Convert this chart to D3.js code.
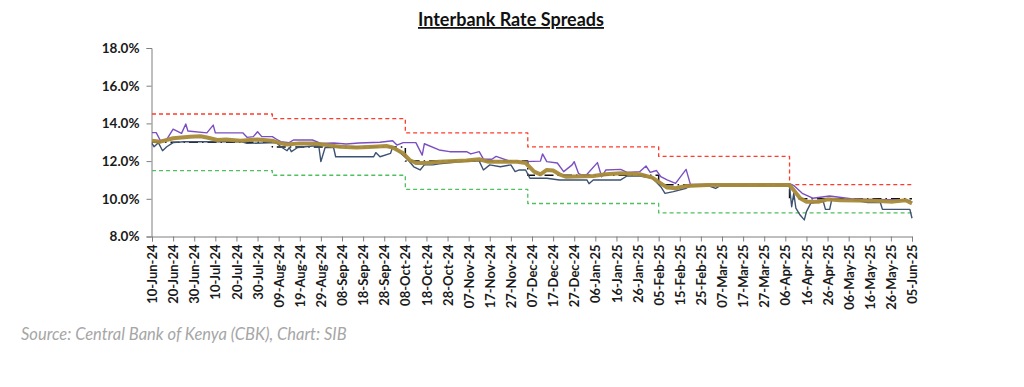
<!DOCTYPE html>
<html>
<head>
<meta charset="utf-8">
<script src="https://cdn.jsdelivr.net/npm/d3@7"></script>
<style>
  html, body { margin: 0; padding: 0; background: #fff; }
  svg { display: block; }
</style>
</head>
<body>
<svg id="chart" width="1024" height="387"></svg>
<script>
// ---------- DATA ----------
const title = "Interbank Rate Spreads";
const source = "Source: Central Bank of Kenya (CBK), Chart: SIB";

const yTicks = [8, 10, 12, 14, 16, 18];
const xTickDates = ["2024-06-10","2024-06-20","2024-06-30","2024-07-10","2024-07-20","2024-07-30",
  "2024-08-09","2024-08-19","2024-08-29","2024-09-08","2024-09-18","2024-09-28","2024-10-08",
  "2024-10-18","2024-10-28","2024-11-07","2024-11-17","2024-11-27","2024-12-07","2024-12-17",
  "2024-12-27","2025-01-06","2025-01-16","2025-01-26","2025-02-05","2025-02-15","2025-02-25",
  "2025-03-07","2025-03-17","2025-03-27","2025-04-06","2025-04-16","2025-04-26","2025-05-06",
  "2025-05-16","2025-05-26","2025-06-05"];

// policy corridor (step lines)
const policyDates = ["2024-06-10","2024-08-06","2024-10-08","2024-12-05","2025-02-05","2025-04-08","2025-06-05"];
const cbrRate   = [13.00, 12.75, 12.00, 11.25, 10.75, 10.00, 10.00];
const upperBand = [14.50, 14.25, 13.50, 12.75, 12.25, 10.75, 10.75];
const lowerBand = [11.50, 11.25, 10.50,  9.75,  9.25,  9.25,  9.25];

// interbank high (purple)
const highDates = ["2024-06-10","2024-06-12","2024-06-14","2024-06-17","2024-06-20","2024-06-24","2024-06-26",
  "2024-06-27","2024-07-06","2024-07-09","2024-07-10","2024-07-23","2024-07-25","2024-07-28","2024-07-30",
  "2024-08-01","2024-08-06","2024-08-08","2024-08-10","2024-08-14","2024-08-16","2024-08-25","2024-08-29",
  "2024-09-04","2024-09-10","2024-09-16","2024-09-26","2024-10-02","2024-10-04","2024-10-07","2024-10-13",
  "2024-10-16","2024-10-17","2024-10-24","2024-10-29","2024-11-06","2024-11-08","2024-11-12","2024-11-14",
  "2024-11-18","2024-11-20","2024-11-27","2024-12-04","2024-12-11","2024-12-12","2024-12-14","2024-12-19",
  "2024-12-22","2024-12-26","2024-12-27","2024-12-29","2025-01-01","2025-01-07","2025-01-09","2025-01-11",
  "2025-01-18","2025-01-21","2025-01-27","2025-01-30","2025-02-01","2025-02-04","2025-02-06","2025-02-09",
  "2025-02-13","2025-02-18","2025-02-20","2025-02-25","2025-03-17","2025-04-08","2025-04-10","2025-04-14",
  "2025-04-19","2025-04-27","2025-05-07","2025-05-15","2025-05-27","2025-06-04","2025-06-05"];
const highRate = [13.51,13.51,13.08,13.15,13.69,13.47,13.97,
  13.60,13.50,13.91,13.50,13.50,13.26,13.30,13.56,
  13.30,13.30,13.16,13.03,12.98,13.12,13.12,12.94,
  12.96,12.91,12.96,13.00,13.08,12.85,12.98,12.98,
  12.32,12.92,12.59,12.50,12.50,12.38,12.50,12.10,
  12.10,12.25,11.97,11.97,12.00,12.38,11.97,11.90,
  11.44,11.80,11.97,11.35,11.17,11.92,11.17,11.53,
  11.56,11.40,11.44,11.74,11.40,11.50,11.17,11.00,
  10.82,11.56,10.78,10.76,10.78,10.80,10.70,10.29,
  10.03,10.15,10.00,9.97,9.95,9.90,9.80];

// interbank low (slate blue)
const lowDates = ["2024-06-10","2024-06-11","2024-06-13","2024-06-15","2024-06-17","2024-06-20","2024-06-25",
  "2024-07-22","2024-07-25","2024-08-08","2024-08-10","2024-08-13","2024-08-14","2024-08-15","2024-08-18",
  "2024-08-25","2024-08-28","2024-08-29","2024-08-31","2024-09-04","2024-09-05","2024-09-23","2024-09-24",
  "2024-09-26","2024-10-01","2024-10-02","2024-10-05","2024-10-09","2024-10-12","2024-10-15","2024-10-17",
  "2024-10-21","2024-10-24","2024-11-06","2024-11-12","2024-11-14","2024-11-17","2024-11-22","2024-11-27",
  "2024-11-29","2024-12-01","2024-12-04","2024-12-06","2024-12-14","2024-12-20","2025-01-02","2025-01-03",
  "2025-01-05","2025-01-18","2025-01-21","2025-01-27","2025-02-02","2025-02-06","2025-02-08","2025-02-12",
  "2025-02-18","2025-02-20","2025-03-01","2025-03-04","2025-03-06","2025-04-07","2025-04-08","2025-04-09",
  "2025-04-10","2025-04-11","2025-04-13","2025-04-15","2025-04-16","2025-04-18","2025-04-22","2025-04-24",
  "2025-04-25","2025-04-27","2025-04-28","2025-05-07","2025-05-15","2025-05-21","2025-05-22","2025-06-04",
  "2025-06-05"];
const lowRate = [12.94,12.76,12.98,12.55,12.76,12.98,13.03,
  13.03,12.94,12.98,12.76,12.55,12.72,12.50,12.72,
  12.80,12.80,11.97,12.72,12.72,12.23,12.23,12.45,
  12.23,12.41,12.76,12.50,12.10,11.70,11.53,11.80,
  11.80,11.85,12.00,12.00,11.53,11.80,11.70,11.80,
  11.44,11.53,11.53,11.09,11.09,11.00,11.00,10.80,
  11.00,11.00,11.21,11.21,11.10,10.64,10.29,10.38,
  10.56,10.68,10.68,10.55,10.68,10.68,10.64,9.58,
  10.30,9.50,9.14,8.88,9.32,9.76,9.85,9.85,
  9.44,9.44,9.97,9.97,9.80,9.80,9.44,9.44,
  8.97];

// interbank average (gold)
const avgDates = ["2024-06-10","2024-06-14","2024-06-20","2024-06-28","2024-07-03","2024-07-06","2024-07-11",
  "2024-07-15","2024-07-22","2024-07-30","2024-08-06","2024-08-10","2024-08-13","2024-08-19","2024-08-25",
  "2024-08-30","2024-09-07","2024-09-15","2024-09-23","2024-09-29","2024-10-02","2024-10-07","2024-10-10",
  "2024-10-13","2024-10-18","2024-10-24","2024-11-06","2024-11-12","2024-11-16","2024-11-30","2024-12-04",
  "2024-12-08","2024-12-11","2024-12-14","2024-12-17","2024-12-20","2024-12-23","2025-01-05","2025-01-11",
  "2025-01-18","2025-01-27","2025-02-02","2025-02-06","2025-02-09","2025-02-13","2025-02-18","2025-02-28",
  "2025-04-08","2025-04-10","2025-04-13","2025-04-16","2025-04-22","2025-04-26","2025-05-02","2025-05-18",
  "2025-05-27","2025-06-02","2025-06-05"];
const avgRate = [13.08,13.03,13.21,13.29,13.32,13.25,13.12,
  13.15,13.08,13.15,13.08,12.94,12.88,12.94,12.94,
  12.88,12.76,12.72,12.76,12.80,12.72,12.41,12.06,
  11.90,11.90,11.97,12.03,12.10,11.97,11.97,11.90,
  11.44,11.30,11.53,11.50,11.30,11.17,11.21,11.30,
  11.35,11.30,11.12,10.82,10.60,10.56,10.68,10.73,
  10.73,10.45,10.03,9.85,9.85,9.97,9.92,9.90,
  9.85,9.92,9.76];

// ---------- CHART ----------
const parse = d3.timeParse("%Y-%m-%d");
const fmtX = d3.timeFormat("%d-%b-%y");
const svg = d3.select("#chart");
const FONT = "Lato, 'Open Sans', sans-serif";

const x = d3.scaleTime()
  .domain([parse(xTickDates[0]), parse(xTickDates[xTickDates.length - 1])])
  .range([152, 912]);
const y = d3.scaleLinear().domain([8, 18]).range([236.5, 48]);

// title
svg.append("text")
  .attr("x", 511).attr("y", 26)
  .attr("text-anchor", "middle")
  .attr("font-family", FONT).attr("font-weight", 700).attr("font-size", 18)
  .attr("fill", "#111")
  .style("text-decoration", "underline")
  .text(title);

// y axis
const yAxis = svg.append("g")
  .attr("transform", "translate(151.5,0)")
  .call(d3.axisLeft(y).tickValues(yTicks).tickSize(5).tickPadding(7)
    .tickFormat(d => d3.format(".1f")(d) + "%"));
yAxis.select(".domain").attr("stroke", "#7f7f7f");
yAxis.selectAll(".tick line").attr("stroke", "#7f7f7f");
yAxis.selectAll("text")
  .attr("font-family", FONT).attr("font-weight", 700).attr("font-size", 13.5).attr("fill", "#1a1a1a");

// x axis
const xAxis = svg.append("g")
  .attr("transform", "translate(0," + y(8) + ")")
  .call(d3.axisBottom(x).tickValues(xTickDates.map(parse)).tickSize(5).tickFormat(fmtX));
xAxis.select(".domain").attr("stroke", "#7f7f7f");
xAxis.selectAll(".tick line").attr("stroke", "#7f7f7f");
xAxis.selectAll("text")
  .attr("font-family", FONT).attr("font-weight", 700).attr("font-size", 13).attr("fill", "#1a1a1a")
  .attr("text-anchor", "end")
  .attr("dy", "0.35em")
  .attr("transform", "translate(0,3) rotate(-90)")
  .attr("x", -5).attr("y", 0);

// lines
const plot = svg.append("g");
function drawSeries(dates, values, opts) {
  const data = dates.map((d, i) => ({ date: parse(d), v: values[i] }));
  const line = d3.line()
    .x(d => x(d.date)).y(d => y(d.v))
    .curve(opts.step ? d3.curveStepAfter : d3.curveLinear);
  plot.append("path")
    .datum(data)
    .attr("d", line)
    .attr("fill", "none")
    .attr("stroke", opts.color)
    .attr("stroke-width", opts.width)
    .attr("stroke-dasharray", opts.dash || null)
    .attr("stroke-linejoin", "round")
    .attr("opacity", opts.opacity || 1);
}

drawSeries(policyDates, upperBand, { step: true, color: "#ff3b2b", width: 1.3, dash: "4,3" });
drawSeries(policyDates, lowerBand, { step: true, color: "#4fbf5f", width: 1.3, dash: "4,3" });
drawSeries(policyDates, cbrRate, { step: true, color: "#111", width: 1.5, dash: "9,4,1.5,4" });
drawSeries(lowDates, lowRate, { color: "#3d5273", width: 1.4 });
drawSeries(highDates, highRate, { color: "#7b4fc2", width: 1.4 });
drawSeries(avgDates, avgRate, { color: "#a88a38", width: 4, opacity: 0.95 });

// source
svg.append("text")
  .attr("x", 21).attr("y", 340)
  .attr("font-family", FONT).attr("font-style", "italic").attr("font-weight", 400).attr("font-size", 16.5)
  .attr("fill", "#a6a6a6")
  .text(source);
</script>
</body>
</html>
